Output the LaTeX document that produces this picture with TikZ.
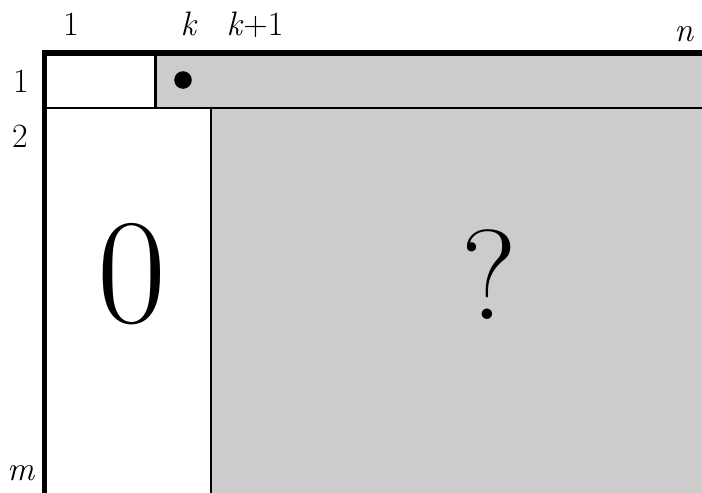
\documentclass[tikz,border=0pt]{standalone}
\usepackage{xcolor}
\usepackage{tikz}
\usetikzlibrary{positioning}

\definecolor{cellgray}{RGB}{204,204,204}

\begin{document}
\begin{tikzpicture}[x=1pt, y=-1pt, line join=miter]
  % Define styles
  \tikzstyle{idx}=[anchor=base, inner sep=0pt, font=\fontsize{34}{40}\selectfont]
  \tikzstyle{big}=[anchor=base, inner sep=0pt]
  \tikzstyle{thin}=[line width=2.2pt]
  \tikzstyle{thick}=[line width=5.4pt]

  \useasboundingbox (0,0) rectangle (702,493);

  % Shaded blocks
  \fill[cellgray] (155.5,53) rectangle (702,108);
  \fill[cellgray] (211,108) rectangle (702,493);

  % Grid lines
  \draw[thin] (44.5,108) -- (702,108);
  \draw[thin] (155.5,53) -- (155.5,108);
  \draw[thin] (211,108) -- (211,493);
  \draw[thick] (44.5,493) -- (44.5,53) -- (702,53);

  % Pivot
  \fill (183,80) circle (8.8);

  % Column indices
  \node[idx] (c1)  at (71,35)   {1};
  \node[idx] (ck)  at (189,35)  {\textit{k}};
  \node[idx] (ck1) at (255,35)  {\textit{k}+1};
  \node[idx] (cn)  at (684,41.5) {\textit{n}};

  % Row indices
  \node[idx] (r1) at (21,92)    {1};
  \node[idx] (r2) at (20,147)   {2};
  \node[idx] (rm) at (21,480)   {\textit{m}};

  % Block contents
  \node[big, font=\fontsize{150}{160}\selectfont] (zero)  at (132,322) {0};
  \node[big, font=\fontsize{128}{136}\selectfont] (unkn)  at (489,319) {?};
\end{tikzpicture}
\end{document}
